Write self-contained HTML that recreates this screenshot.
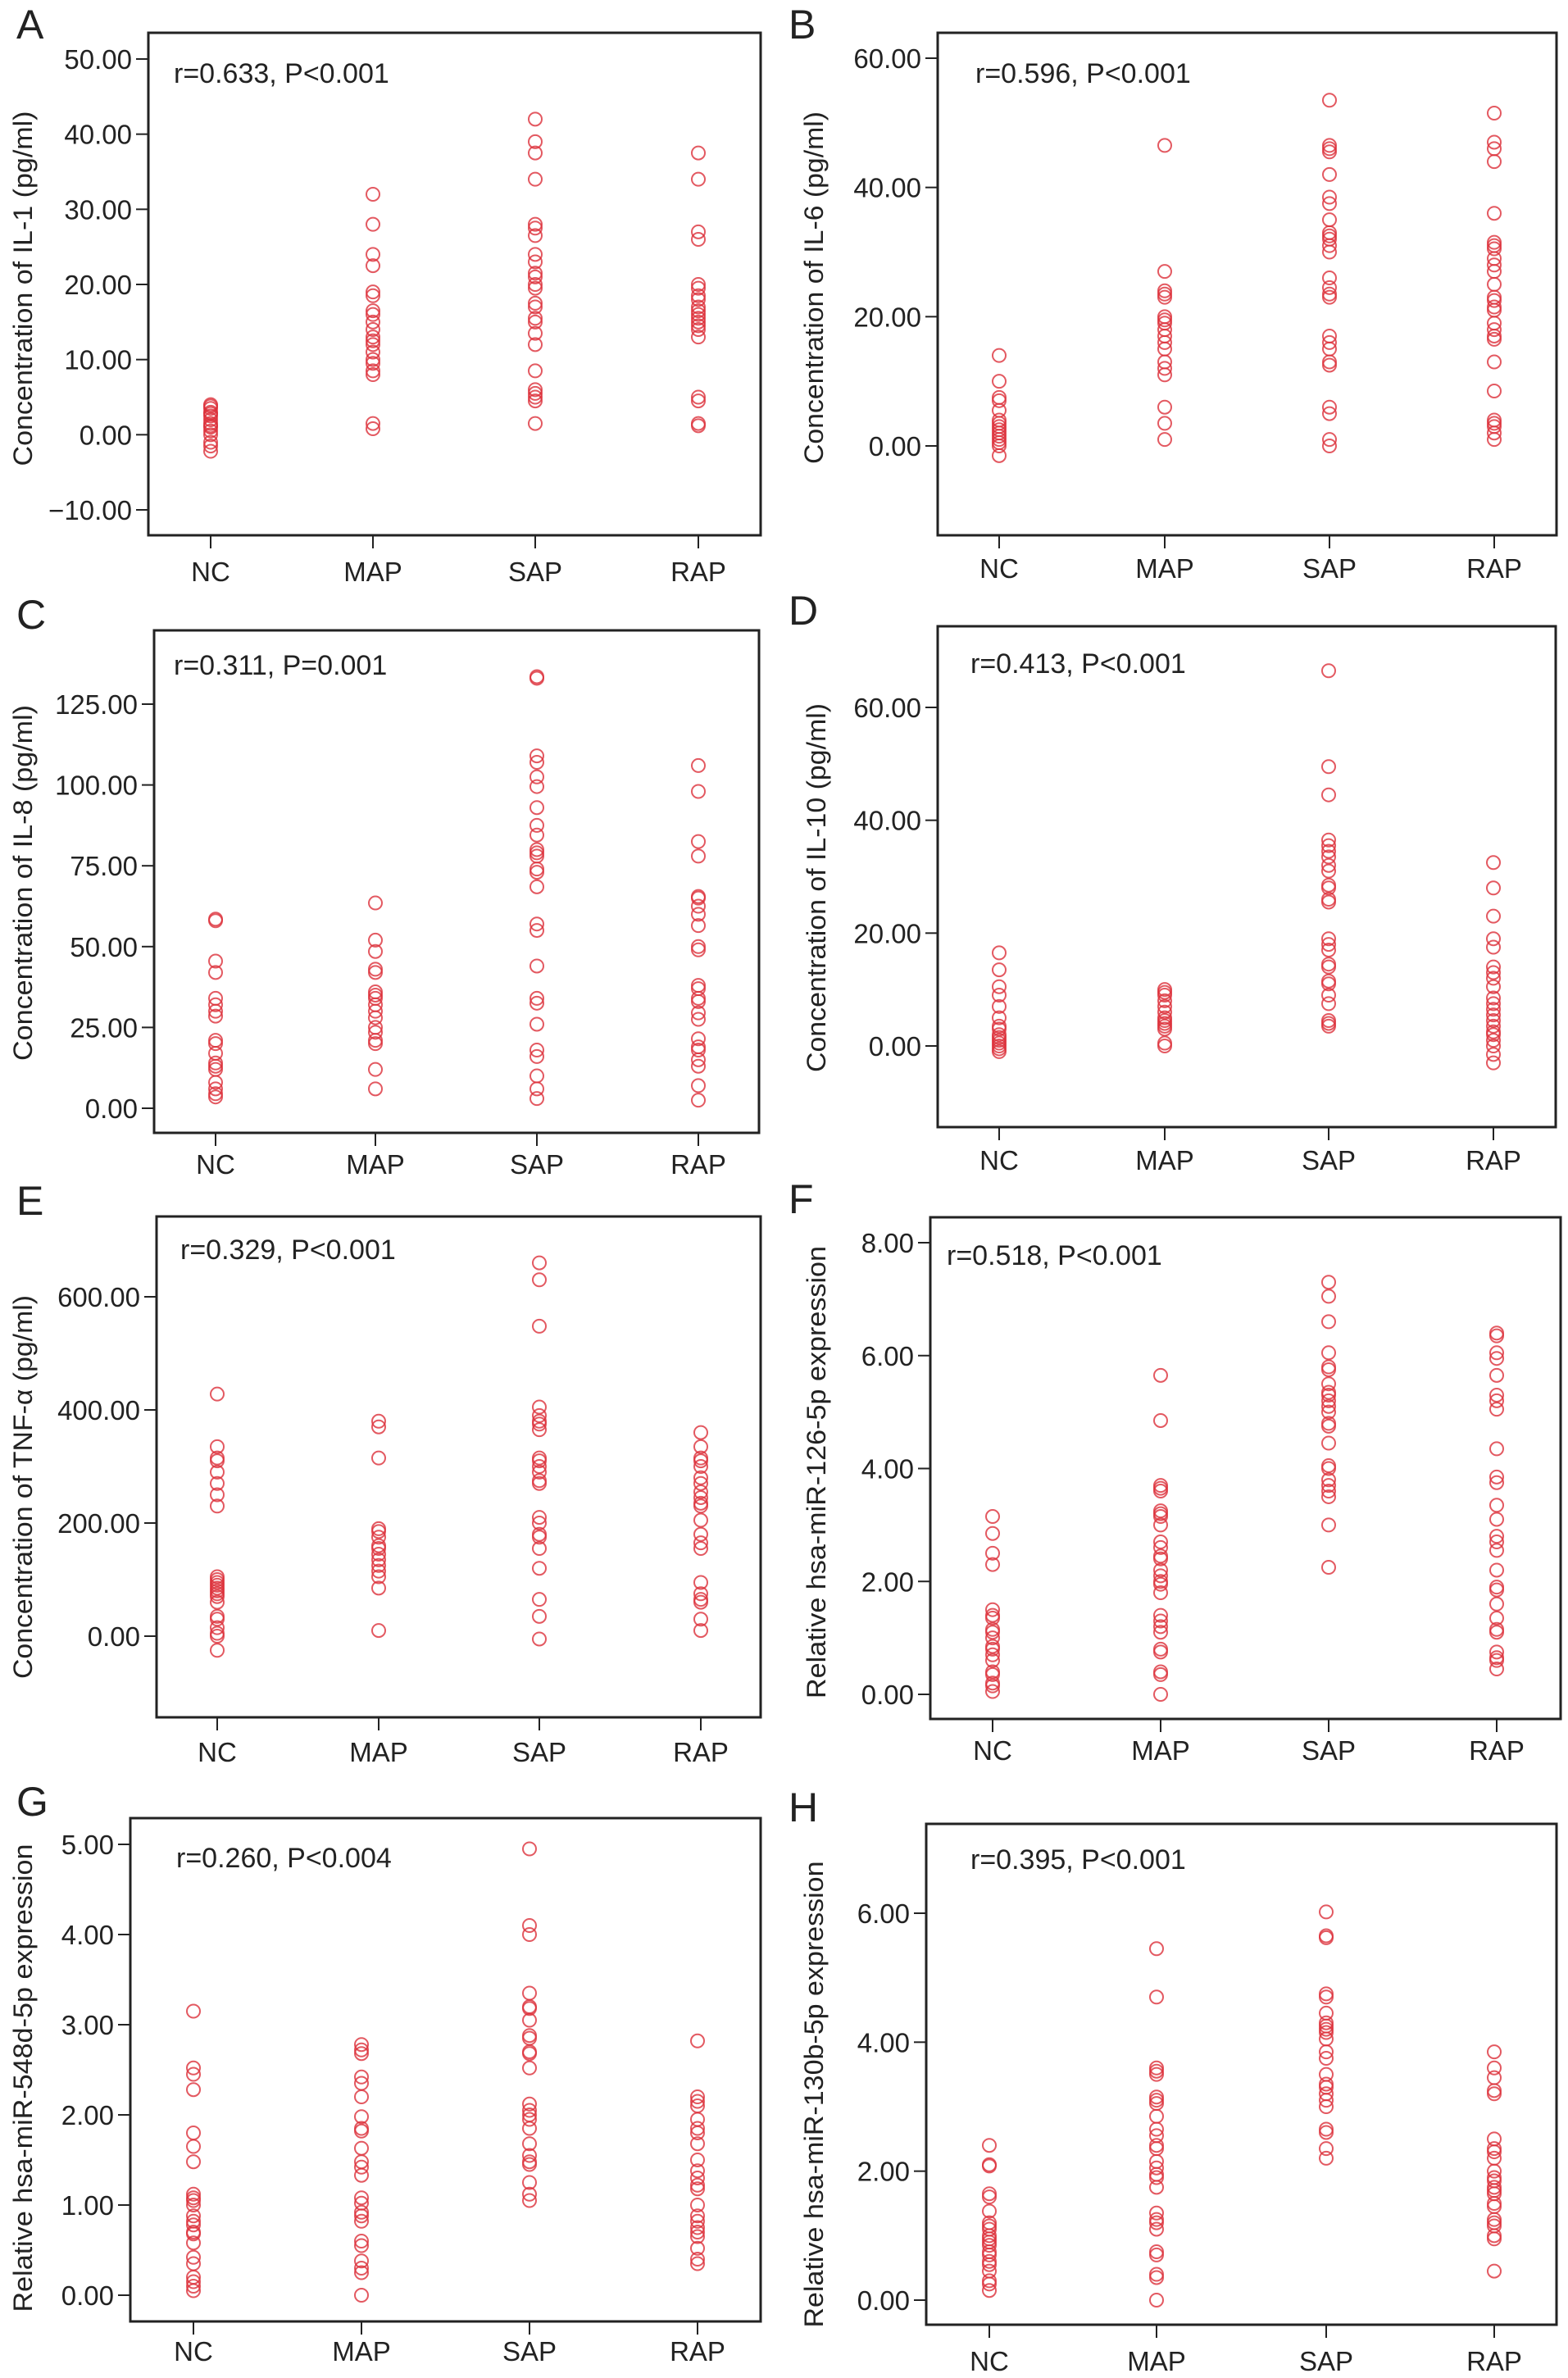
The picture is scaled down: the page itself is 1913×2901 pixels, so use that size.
<!DOCTYPE html>
<html><head><meta charset="utf-8"><style>
html,body{margin:0;padding:0;background:#fff}
svg{display:block}
text{font-family:"Liberation Sans",Arial,sans-serif;fill:#222}
</style></head><body>
<svg id="fig" width="1913" height="2901" viewBox="0 0 1913 2901" xmlns="http://www.w3.org/2000/svg"></svg>
<script>
const categories = ["NC","MAP","SAP","RAP"];

// Panel A IL-1
const aNC=[4,3.5,3.8,3,2.8,2.5,2,1.5,1.2,1,0.5,0,-1,-1.5,-2.2];
const aMAP=[32,28,24,22.5,19,18.5,16.5,16,15,14,13,12.5,12,11,10,9.5,8.5,8,1.5,0.8];
const aSAP=[42,39,37.5,34,28,27.5,26.5,24,23,21.5,21,20,19.5,17.5,17,15.5,15,13.5,12,8.5,6,5.5,5,4.5,1.5];
const aRAP=[37.5,34,27,26,20,19.5,18.5,18,17,16.5,16,15.5,15,14.5,14,13,5,4.5,1.5,1.2];
const aTicks=[-10,0,10,20,30,40,50];
// Panel B IL-6
const bNC=[14,10,7.5,7,5.5,4,3.5,3,2.5,2,1.5,1,0.5,0,-1.5];
const bMAP=[46.5,27,24,23.5,23,20,19.5,19,18,17,16,15,13,12,11,6,3.5,1];
const bSAP=[53.5,46.5,46,45.5,42,38.5,37.5,35,33,32.5,32,31,30,26,24.5,23.5,23,17,16,15,13,12.5,6,5,1,0];
const bRAP=[51.5,47,46,44,36,31.5,31,30.5,29,28,27,25,23,22.5,21.5,21,19,18,17,16.5,13,8.5,4,3.5,3,2,1];
const bTicks=[0,20,40,60];
// Panel C IL-8
const cNC=[58.5,58,45.5,42,34,32,30,28.5,21,20,17,14,13,12,8,6,4.5,3.5];
const cMAP=[63.5,52,48.5,43,42,36,35,34,32,30,28,25,23.5,21,20,12,6];
const cSAP=[133.5,133,109,107,102.5,99.5,93,87.5,84.5,80,79,78,74,73,68.5,57,55,44,34,32.5,26,18,16,10,6,3];
const cRAP=[106,98,82.5,78,65.5,65,62.5,60,56.5,50,49,38,37,34,33,29.5,27.5,21.5,19,18,15,13,7,2.5];
const cTicks=[0,25,50,75,100,125];
// Panel D IL-10
const dNC=[16.5,13.5,10.5,9,7,5,3.5,3,2,1.5,1,0.5,0,-0.5,-1];
const dMAP=[10,9.5,9,8,7,6,5,4.5,4,3.5,3,0.5,0];
const dSAP=[66.5,49.5,44.5,36.5,35.5,34.5,33.5,32,31,28.5,28,26,25.5,19,18,17,14.5,14,11.5,11,9,7.5,4.5,4,3.5];
const dRAP=[32.5,28,23,19,17.5,14,13,12,10.5,8.5,7.5,6.5,5.5,4.5,3.5,2.5,2,1,0,-1.5,-3];
const dTicks=[0,20,40,60];
// Panel E TNF-a
const eNC=[428,335,315,310,290,270,250,230,105,100,95,90,85,80,75,70,60,35,30,15,5,0,-25];
const eMAP=[380,370,315,190,185,175,160,155,145,135,125,115,105,85,10];
const eSAP=[660,630,548,405,390,380,375,365,315,310,300,290,275,270,210,200,180,175,155,120,65,35,-5];
const eRAP=[360,335,315,310,300,280,270,255,245,235,230,205,180,165,155,95,75,65,60,30,10];
const eTicks=[0,200,400,600];
// Panel F miR-126
const fNC=[3.15,2.85,2.5,2.3,1.5,1.4,1.35,1.15,1.1,1,0.85,0.8,0.7,0.6,0.4,0.35,0.2,0.15,0.05];
const fMAP=[5.65,4.85,3.7,3.65,3.6,3.25,3.2,3.15,3,2.7,2.6,2.45,2.4,2.2,2.1,2,1.95,1.8,1.4,1.3,1.2,1.1,0.8,0.75,0.4,0.35,0];
const fSAP=[7.3,7.05,6.6,6.05,5.8,5.75,5.5,5.35,5.3,5.2,5.1,5.0,4.8,4.75,4.45,4.05,4,3.8,3.7,3.6,3.5,3,2.25];
const fRAP=[6.4,6.35,6.05,5.95,5.65,5.3,5.2,5.05,4.35,3.85,3.75,3.35,3.1,2.8,2.7,2.55,2.2,1.9,1.85,1.6,1.35,1.15,1.1,0.75,0.65,0.6,0.45];
const fTicks=[0,2,4,6,8];
// Panel G miR-548d
const gNC=[3.15,2.52,2.45,2.28,1.8,1.65,1.48,1.12,1.08,1.05,1.0,0.88,0.82,0.78,0.7,0.68,0.58,0.42,0.35,0.2,0.15,0.1,0.05];
const gMAP=[2.78,2.72,2.68,2.42,2.35,2.2,1.98,1.85,1.82,1.63,1.48,1.42,1.33,1.08,1.02,0.92,0.88,0.82,0.6,0.55,0.38,0.3,0.25,0];
const gSAP=[4.95,4.1,4.0,3.35,3.2,3.18,3.05,2.88,2.85,2.7,2.68,2.52,2.12,2.05,2.0,1.95,1.85,1.68,1.55,1.48,1.45,1.25,1.12,1.05];
const gRAP=[2.82,2.2,2.15,2.1,1.95,1.85,1.8,1.68,1.5,1.38,1.3,1.22,1.18,1.0,0.88,0.82,0.75,0.7,0.65,0.52,0.4,0.35];
const gTicks=[0,1,2,3,4,5];
// Panel H miR-130b
const hNC=[2.4,2.1,2.08,1.65,1.6,1.38,1.2,1.15,1.1,1.0,0.95,0.9,0.85,0.75,0.7,0.6,0.55,0.45,0.3,0.25,0.15];
const hMAP=[5.45,4.7,3.6,3.55,3.5,3.15,3.1,3.05,2.85,2.65,2.55,2.4,2.35,2.15,2.05,1.95,1.9,1.75,1.35,1.25,1.2,1.1,0.75,0.7,0.4,0.35,0];
const hSAP=[6.02,5.65,5.62,4.75,4.7,4.45,4.3,4.25,4.2,4.15,4.05,3.85,3.75,3.5,3.35,3.3,3.2,3.1,3.0,2.65,2.6,2.35,2.2];
const hRAP=[3.85,3.6,3.45,3.25,3.2,2.5,2.35,2.3,2.2,2.0,1.9,1.85,1.75,1.7,1.65,1.5,1.45,1.25,1.2,1.15,1.0,0.95,0.45];
const hTicks=[0,2,4,6];

const panelLabels=["A","B","C","D","E","F","G","H"];
const yTitles=["Concentration of IL-1 (pg/ml)","Concentration of IL-6 (pg/ml)","Concentration of IL-8 (pg/ml)","Concentration of IL-10 (pg/ml)","Concentration of TNF-\u03b1 (pg/ml)","Relative hsa-miR-126-5p expression","Relative hsa-miR-548d-5p expression","Relative hsa-miR-130b-5p expression"];
const stats=["r=0.633, P<0.001","r=0.596, P<0.001","r=0.311, P=0.001","r=0.413, P<0.001","r=0.329, P<0.001","r=0.518, P<0.001","r=0.260, P<0.004","r=0.395, P<0.001"];
const seriesData=[[aNC,aMAP,aSAP,aRAP],[bNC,bMAP,bSAP,bRAP],[cNC,cMAP,cSAP,cRAP],[dNC,dMAP,dSAP,dRAP],[eNC,eMAP,eSAP,eRAP],[fNC,fMAP,fSAP,fRAP],[gNC,gMAP,gSAP,gRAP],[hNC,hMAP,hSAP,hRAP]];
const tickSets=[aTicks,bTicks,cTicks,dTicks,eTicks,fTicks,gTicks,hTicks];

// layout (pixel geometry): frame, calibration ticks (value->px), category x, etc.
const layout=[
 {L:181,R:928,T:40,B:653,v0:-10,p0:622,v1:50,p1:72,cx:[257,455,653,852],ly:709,tx:28,ty:352,tl:433,sx:212,sy:101,lx:20,lyL:47},
 {L:1144,R:1899,T:40,B:653,v0:0,p0:544,v1:60,p1:71,cx:[1219,1421,1622,1823],ly:705,tx:993,ty:351,tl:430,sx:1190,sy:101,lx:962,lyL:47},
 {L:188,R:926,T:769,B:1382,v0:0,p0:1352,v1:125,p1:859,cx:[263,458,655,852],ly:1432,tx:28,ty:1077,tl:434,sx:212,sy:823,lx:20,lyL:767},
 {L:1144,R:1898,T:764,B:1375,v0:0,p0:1276,v1:60,p1:863,cx:[1219,1421,1621,1822],ly:1427,tx:996,ty:1083,tl:450,sx:1184,sy:821,lx:962,lyL:762},
 {L:191,R:928,T:1484,B:2095,v0:0,p0:1996,v1:600,p1:1582,cx:[265,462,658,855],ly:2149,tx:28,ty:1814,tl:468,sx:220,sy:1536,lx:20,lyL:1482},
 {L:1135,R:1904,T:1485,B:2097,v0:0,p0:2067,v1:8,p1:1516,cx:[1211,1416,1621,1826],ly:2147,tx:996,ty:1796,tl:552,sx:1155,sy:1543,lx:962,lyL:1480},
 {L:159,R:928,T:2218,B:2832,v0:0,p0:2800,v1:5,p1:2250,cx:[236,441,646,851],ly:2880,tx:28,ty:2535,tl:571,sx:215,sy:2278,lx:20,lyL:2215},
 {L:1130,R:1899,T:2225,B:2836,v0:0,p0:2806,v1:6,p1:2334,cx:[1207,1411,1618,1823],ly:2892,tx:993,ty:2555,tl:569,sx:1184,sy:2280,lx:962,lyL:2222}
];

const NS="http://www.w3.org/2000/svg";
const svg=document.getElementById('fig');
function mk(tag,attrs,parent){const e=document.createElementNS(NS,tag);for(const k in attrs)e.setAttribute(k,attrs[k]);(parent||svg).appendChild(e);return e;}
function fmt(v){const s=Math.abs(v).toFixed(2);return v<0?"\u2212"+s:s;}

layout.forEach((g,i)=>{
  const grp=mk('g',{});
  
  
  const yScale=v=>g.p0+(v-g.v0)*(g.p1-g.p0)/(g.v1-g.v0);
  const xScale=ci=>g.cx[ci];
  // panel letter
  const pl=mk('text',{x:g.lx,y:g.lyL,'font-size':50},grp);
  pl.textContent=panelLabels[i];
  
  
  // frame
  const fr=mk('rect',{x:g.L,y:g.T,width:g.R-g.L,height:g.B-g.T,fill:'none',stroke:'#222','stroke-width':3},grp);
  
  
  // y ticks
  tickSets[i].forEach(t=>{
    const y=yScale(t);
    const tk=mk('line',{x1:g.L-15,x2:g.L,y1:y,y2:y,stroke:'#222','stroke-width':2},grp);
    
    
    const tl=mk('text',{x:g.L-20,y:y+12,'font-size':33,'text-anchor':'end'},grp);
    tl.textContent=fmt(t);
    
    
  });
  // x ticks & labels
  categories.forEach((c,ci)=>{
    const x=xScale(ci);
    const tk=mk('line',{x1:x,x2:x,y1:g.B,y2:g.B+16,stroke:'#222','stroke-width':2},grp);
    
    
    const tl=mk('text',{x:x,y:g.ly,'font-size':33,'text-anchor':'middle'},grp);
    tl.textContent=c;
    
    
  });
  // y title
  const yt=mk('text',{x:0,y:0,'font-size':32,'text-anchor':'middle',transform:`translate(${g.tx+11},${g.ty}) rotate(-90)`,textLength:g.tl,lengthAdjust:'spacingAndGlyphs'},grp);
  yt.textContent=yTitles[i];
  
  
  // stat annotation
  const st=mk('text',{x:g.sx,y:g.sy,'font-size':34},grp);
  st.textContent=stats[i];
  
  
  // points
  seriesData[i].forEach((arr,ci)=>{
    arr.forEach(v=>{
      const p=mk('circle',{cx:xScale(ci),cy:yScale(v),r:8,fill:'none',stroke:'#dc2f3a','stroke-width':2,'stroke-opacity':0.8},grp);
      
      
    });
  });
});
</script>
</body></html>
